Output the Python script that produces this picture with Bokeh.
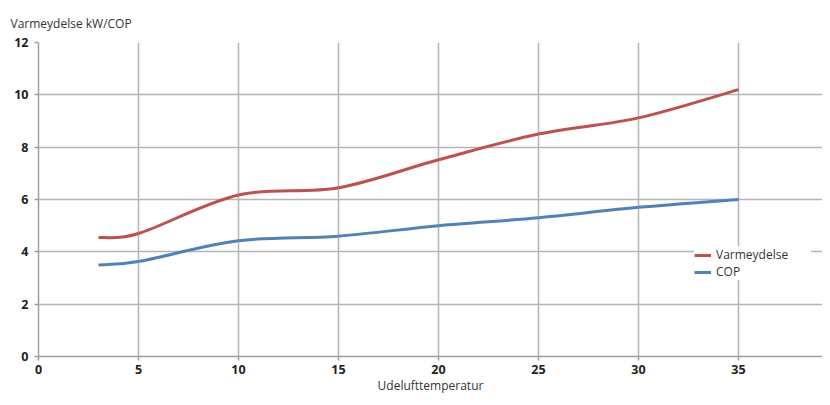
import numpy as np
from bokeh.plotting import figure
from bokeh.models import Legend, LegendItem, FixedTicker
from bokeh.embed import file_html
from bokeh.resources import INLINE

# ---- data ----
temps = [3, 5, 10, 15, 20, 25, 30, 35]
varmeydelse = [4.55, 4.7, 6.17, 6.45, 7.52, 8.5, 9.12, 10.2]
cop = [3.5, 3.63, 4.42, 4.6, 5.0, 5.3, 5.7, 6.0]
x_ticks = [0, 5, 10, 15, 20, 25, 30, 35]
y_ticks = [0, 2, 4, 6, 8, 10, 12]
title_text = "Varmeydelse kW/COP"
x_label = "Udelufttemperatur"
series_names = ["Varmeydelse", "COP"]
colors = ["#C0504D", "#4F81BD"]

FONT = "Open Sans"

p = figure(width=822, height=397, output_backend="svg", toolbar_location=None,
           x_range=(0, 39.2), y_range=(0, 12),
           min_border_left=38, min_border_right=0, min_border_top=42, min_border_bottom=41)
p.outline_line_color = None
p.background_fill_color = "white"

p.title.text = title_text
p.title.align = "left"
p.title.offset = -28
p.title.text_font = FONT
p.title.text_font_size = "12px"
p.title.text_font_style = "normal"
p.title.text_color = "#333333"
p.title.standoff = 21

def smooth_segments(xs, ys):
    x = np.array(xs, float); y = np.array(ys, float)
    xp = np.concatenate([[x[0]], x, [x[-1]]])
    yp = np.concatenate([[y[0]], y, [y[-1]]])
    n = len(x)
    x0 = x[:-1]; y0 = y[:-1]; x1 = x[1:]; y1 = y[1:]
    cx0 = x0 + (xp[2:n+1] - xp[0:n-1]) / 6.0
    cy0 = y0 + (yp[2:n+1] - yp[0:n-1]) / 6.0
    cx1 = x1 - (xp[3:n+2] - xp[1:n]) / 6.0
    cy1 = y1 - (yp[3:n+2] - yp[1:n]) / 6.0
    return dict(x0=x0, y0=y0, x1=x1, y1=y1, cx0=cx0, cy0=cy0, cx1=cx1, cy1=cy1)

renderers = []
for ys, c in zip([varmeydelse, cop], colors):
    d = smooth_segments(temps, ys)
    r = p.bezier(x0="x0", y0="y0", x1="x1", y1="y1", cx0="cx0", cy0="cy0",
                 cx1="cx1", cy1="cy1", source=d, line_color=c, line_width=3)
    renderers.append(r)

# grid
for g in (p.xgrid, p.ygrid):
    g.grid_line_color = "#b4b4b4"
    g.grid_line_width = 1.5
p.xaxis.ticker = FixedTicker(ticks=x_ticks)
p.yaxis.ticker = FixedTicker(ticks=y_ticks)
p.xgrid.ticker = FixedTicker(ticks=x_ticks)
p.ygrid.ticker = FixedTicker(ticks=y_ticks)

for ax in (p.xaxis, p.yaxis):
    ax.axis_line_color = "#a0a0a0"
    ax.axis_line_width = 1.5
    ax.major_tick_line_color = "#a0a0a0"
    ax.major_tick_line_width = 1.5
    ax.major_tick_in = 0
    ax.major_tick_out = 4
    ax.minor_tick_line_color = None
    ax.major_label_text_font = FONT
    ax.major_label_text_font_size = "12.5px"
    ax.major_label_text_font_style = "bold"
    ax.major_label_text_color = "#222222"
p.yaxis.major_label_standoff = 6
p.xaxis.major_label_standoff = 4

p.xaxis.axis_label = x_label
p.xaxis.axis_label_text_font = FONT
p.xaxis.axis_label_text_font_size = "12px"
p.xaxis.axis_label_text_font_style = "normal"
p.xaxis.axis_label_text_color = "#333333"
p.xaxis.axis_label_standoff = 0

legend = Legend(items=[LegendItem(label=n, renderers=[r]) for n, r in zip(series_names, renderers)],
                location=(656, 76), padding=14, spacing=0, margin=0,
                label_height=16, glyph_height=16, glyph_width=17, label_standoff=5,
                label_width=95, label_text_font=FONT, label_text_font_size="12px",
                label_text_color="#333333", border_line_color=None,
                background_fill_color="white", background_fill_alpha=1.0)
p.add_layout(legend)

open("out.html", "w").write(file_html(p, INLINE))
